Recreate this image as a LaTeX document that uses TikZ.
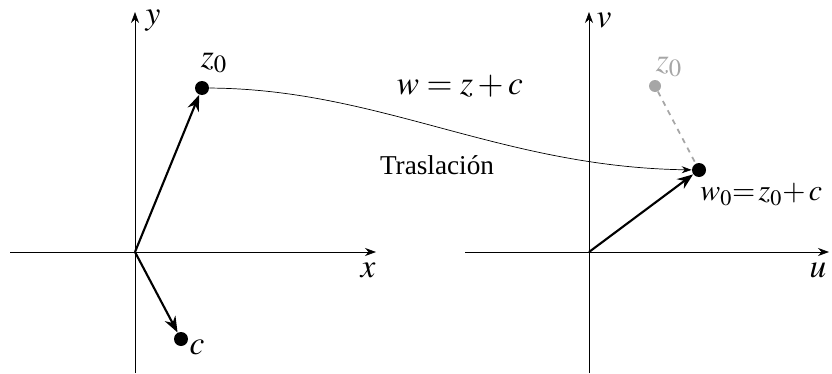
\documentclass[tikz,border=0pt]{standalone}
\usepackage{mathptmx}
\usepackage{fontspec}
\setmainfont{Liberation Serif}
\usetikzlibrary{arrows.meta}
\begin{document}
\begin{tikzpicture}[
        x=0.02cm, y=0.02cm,
        every node/.style = {inner sep=1pt, font=\fontsize{19}{21}\selectfont},
        dot/.style = {circle, fill=black, inner sep=0pt, minimum size=0.28cm},
        ghostdot/.style = {circle, fill=gray!70, inner sep=0pt, minimum size=0.24cm},
        axis/.style = {-{Stealth[length=2.2mm, width=1.6mm]}, thin},
        vec/.style = {-{Stealth[length=3.2mm, width=2.4mm]}, line width=1.2pt},
        map/.style = {-{Stealth[length=2mm, width=1.4mm]}, thin},
        ghost/.style = {dashed, gray!70, line width=1pt}
    ]
    \useasboundingbox (0,0) rectangle (832,373);

    % Plano z
    \coordinate (O1) at (135,121);
    \coordinate (yb) at (135,0);
    \coordinate (yt) at (135,361);
    \coordinate (xl) at (10,121);
    \coordinate (xr) at (376,121);
    \draw[axis] (yb) -- (yt);
    \draw[axis] (xl) -- (xr);
    \node (ylab) at (153,352) {$y$};
    \node (xlab) at (368,103) {$x$};

    \node[dot] (z0) at (202,285) {};
    \node[dot] (c) at (181,34) {};
    \draw[vec] (O1) -- (z0);
    \draw[vec] (O1) -- (c);
    \node (z0lab) at (214,310) {$z_0$};
    \node (clab) at (197,26) {$c$};

    % Plano w
    \coordinate (O2) at (589,121);
    \coordinate (vb) at (589,0);
    \coordinate (vt) at (589,361);
    \coordinate (ul) at (465,121);
    \coordinate (ur) at (829,121);
    \draw[axis] (vb) -- (vt);
    \draw[axis] (ul) -- (ur);
    \node (vlab) at (604,352) {$v$};
    \node (ulab) at (818,103) {$u$};

    \node[ghostdot] (g0) at (655,287) {};
    \node[text=gray!70] (g0lab) at (669,306) {$z_0$};
    \node[dot] (w0) at (699,203) {};
    \draw[ghost] (g0) -- (w0);
    \draw[vec] (O2) -- (w0);
    \node[anchor=north west, inner sep=0pt, font=\fontsize{17}{19}\selectfont] (w0lab) at (700,190) {$w_0{=}\,z_0{+}\,c$};

    % Traslacion
    \draw[map] (z0) .. controls (380,284) and (500,206) .. (w0);
    \node (eq) at (460,287) {$w = z + c$};
    \node[font=\fontsize{15.5}{18}\selectfont] (tras) at (437,208) {Traslación};
\end{tikzpicture}
\end{document}
